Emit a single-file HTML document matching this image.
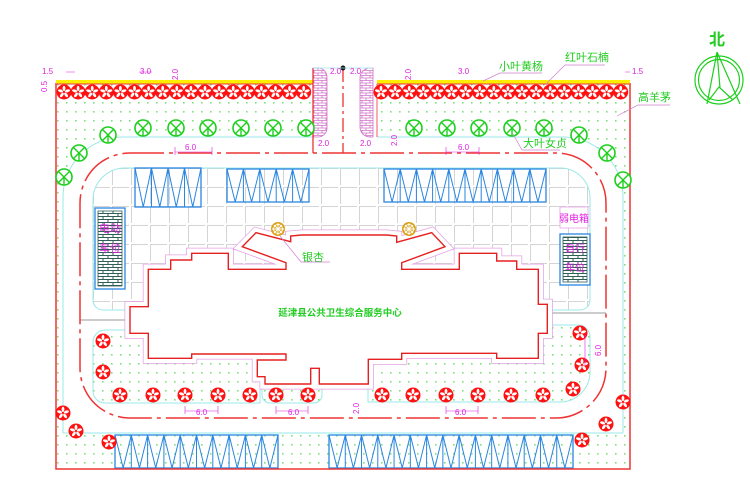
<!DOCTYPE html>
<html><head><meta charset="utf-8"><style>
html,body{margin:0;padding:0;background:#fff;}
svg{display:block;}
text{font-family:"Liberation Sans","Noto Sans CJK SC",sans-serif;}
</style></head><body>
<svg id="s" width="750" height="504" viewBox="0 0 750 504" xmlns="http://www.w3.org/2000/svg">
<defs>
<pattern id="dots" width="9" height="9" patternUnits="userSpaceOnUse">
<rect x="3" y="3" width="1.6" height="1.6" fill="#7be27b"/>
</pattern>
<pattern id="grid" x="93" y="168" width="19" height="19" patternUnits="userSpaceOnUse">
<rect width="19" height="19" fill="#fff"/>
<path d="M0 0.5H17 M0.5 0V17" stroke="#d4d4d4" stroke-width="1" fill="none"/>
</pattern>
<pattern id="brick" width="10" height="6" patternUnits="userSpaceOnUse">
<rect width="10" height="6" fill="#fff"/>
<path d="M0 0.5H10 M0 3.5H10 M3 0.5V3.5 M8 3.5V6" stroke="#2f5f55" stroke-width="1" fill="none"/>
</pattern>
<pattern id="pbrick" width="8" height="5" patternUnits="userSpaceOnUse">
<rect width="8" height="5" fill="#fff"/>
<path d="M0 0.5H8 M0 3H8 M2 0.5V3 M6 3V5" stroke="#d070c8" stroke-width="0.8" fill="none"/>
</pattern>
<symbol id="gt" viewBox="-9 -9 18 18" overflow="visible">
<circle r="8" fill="#fff" stroke="#1ccf1c" stroke-width="1.6"/>
<path d="M-5.6 -5.6L5.6 5.6M5.6 -5.6L-5.6 5.6M0 0V8" stroke="#1ccf1c" stroke-width="1.4"/>
</symbol>
<symbol id="rf" viewBox="-8 -8 16 16" overflow="visible">
<circle r="7.5" fill="#f11"/>
<g fill="#fff">
<ellipse cx="0" cy="-3.6" rx="1.4" ry="2.6"/>
<ellipse cx="0" cy="-3.6" rx="1.4" ry="2.6" transform="rotate(72)"/>
<ellipse cx="0" cy="-3.6" rx="1.4" ry="2.6" transform="rotate(144)"/>
<ellipse cx="0" cy="-3.6" rx="1.4" ry="2.6" transform="rotate(216)"/>
<ellipse cx="0" cy="-3.6" rx="1.4" ry="2.6" transform="rotate(288)"/>
</g>
</symbol>
<symbol id="gk" viewBox="-8 -8 16 16" overflow="visible">
<circle r="7" fill="#d9a21a"/>
<circle r="4.5" fill="none" stroke="#fff" stroke-width="1"/>
<path d="M-6 0H6M0 -6V6M-4 -4L4 4M4 -4L-4 4" stroke="#fff" stroke-width="0.9"/>
</symbol>
</defs>

<!-- green outer area -->
<path fill-rule="evenodd" fill="url(#dots)" d="M56 83H630V469H56Z M123 137H563A60 60 0 0 1 623 197V433H63V197A60 60 0 0 1 123 137Z"/>
<!-- entrance gap -->
<rect x="313" y="83" width="64" height="70" fill="#fff"/>
<!-- road outer cyan -->
<path d="M63 433V197A60 60 0 0 1 123 137H313 M377 137H563A60 60 0 0 1 623 197V433" fill="none" stroke="#9be8e8" stroke-width="1"/>
<line x1="63" y1="433" x2="623" y2="433" stroke="#9be8e8" stroke-width="1"/>

<!-- plaza -->
<path d="M125 168H560A30 30 0 0 1 590 198V300A10 10 0 0 1 580 310H103A10 10 0 0 1 93 300V200A32 32 0 0 1 125 168Z" fill="url(#grid)" stroke="#9be8e8" stroke-width="1"/>
<!-- lower gardens -->
<path d="M105 330H260V403H105A12 12 0 0 1 93 391V342A12 12 0 0 1 105 330Z" fill="url(#dots)" stroke="#9be8e8"/>
<rect x="262" y="370" width="60" height="33" rx="8" fill="url(#dots)" stroke="#9be8e8"/>
<path d="M368 325H578A12 12 0 0 1 590 337V372A30 30 0 0 1 560 402H368Z" fill="url(#dots)" stroke="#9be8e8"/>

<!-- gray lines -->
<line x1="80" y1="320" x2="131" y2="320" stroke="#999" stroke-width="1"/>
<line x1="547" y1="313" x2="606" y2="313" stroke="#999" stroke-width="1"/>

<!-- red dash-dot road line -->
<rect x="80" y="153" width="526" height="265" rx="50" fill="none" stroke="#e33" stroke-width="1.5" stroke-dasharray="34 5 4 5"/>

<!-- parking -->
<g id="park" fill="none" stroke="#2a86e0" stroke-width="1.3"></g>

<!-- building -->
<g id="bld"></g>

<!-- boundary -->
<path d="M56 83V469H630V83" fill="none" stroke="#e33" stroke-width="1.5"/>
<rect x="56" y="80" width="257" height="4" fill="#ffee00"/>
<rect x="377" y="80" width="253" height="4" fill="#ffee00"/>
<line x1="56" y1="84" x2="313" y2="84" stroke="#e33" stroke-width="1"/>
<line x1="377" y1="84" x2="630" y2="84" stroke="#e33" stroke-width="1"/>

<!-- entrance bricks -->
<path d="M313 68H318A9 9 0 0 1 327 77V128A9 9 0 0 1 318 137H313Z" fill="url(#pbrick)" stroke="#d070c8" stroke-width="0.8"/>
<path d="M373 68H370A10 10 0 0 0 360 78V127A10 10 0 0 0 370 137H373Z" fill="url(#pbrick)" stroke="#d070c8" stroke-width="0.8"/>
<line x1="313" y1="68" x2="313" y2="153" stroke="#e33" stroke-width="1.3"/>
<line x1="377" y1="84" x2="377" y2="137" stroke="#e33" stroke-width="0.8"/>
<line x1="343" y1="68" x2="343" y2="153" stroke="#e33" stroke-width="1.3" stroke-dasharray="14 4 3 4"/>
<circle cx="343" cy="68" r="2.5" fill="#111"/>
<line x1="313" y1="68" x2="373" y2="68" stroke="#9be8e8" stroke-width="0.8"/>

<g id="trees"></g>

<!-- boxes -->
<rect x="95" y="208" width="30" height="81" fill="#fff" stroke="#2a86e0" stroke-width="1.3"/>
<rect x="98" y="211" width="24" height="75" fill="url(#brick)" stroke="#2f5f55" stroke-width="0.8"/>
<text x="110" y="232" font-size="11" fill="#e020e0" text-anchor="middle">电动</text>
<text x="110" y="252" font-size="11" fill="#e020e0" text-anchor="middle">车位</text>
<rect x="560" y="234" width="30" height="51" fill="#fff" stroke="#2a86e0" stroke-width="1.3"/>
<rect x="563" y="237" width="24" height="45" fill="url(#brick)" stroke="#2f5f55" stroke-width="0.8"/>
<text x="575" y="252" font-size="10" fill="#e020e0" text-anchor="middle">自行</text>
<text x="575" y="271" font-size="10" fill="#e020e0" text-anchor="middle">车位</text>
<rect x="560" y="207" width="28" height="21" fill="#fff" stroke="#e8a0e8" stroke-width="0.8"/>
<text x="574" y="222" font-size="10" fill="#e020e0" text-anchor="middle">弱电箱</text>

<!-- labels -->
<text x="340" y="316" font-size="9.5" font-weight="bold" fill="#22cc22" text-anchor="middle">延津县公共卫生综合服务中心</text>
<text x="302" y="261" font-size="11" fill="#22cc22">银杏</text>
<polyline points="280,236 301,262 330,262" fill="none" stroke="#d080d0" stroke-width="0.7"/>
<text x="499" y="70" font-size="11" fill="#22cc22">小叶黄杨</text>
<polyline points="483,81 500,73 542,73" fill="none" stroke="#d080d0" stroke-width="0.7"/>
<text x="565" y="61" font-size="11" fill="#22cc22">红叶石楠</text>
<polyline points="546,84 565,65 605,65" fill="none" stroke="#d080d0" stroke-width="0.7"/>
<text x="638" y="101" font-size="11" fill="#22cc22">高羊茅</text>
<polyline points="617,116 638,105 670,105" fill="none" stroke="#d080d0" stroke-width="0.7"/>
<text x="523" y="147" font-size="11" fill="#22cc22">大叶女贞</text>
<polyline points="513,134 522,150 560,150" fill="none" stroke="#d080d0" stroke-width="0.7"/>

<!-- dimensions -->
<g fill="#e020e0" font-size="8" id="dims">
<text x="42" y="74">1.5</text>
<text x="140" y="74">3.0</text>
<text x="458" y="74">3.0</text>
<text x="632" y="74">1.5</text>
<text x="330" y="74">2.0</text>
<text x="350" y="74">2.0</text>
<text x="318" y="146">2.0</text>
<text x="360" y="146">2.0</text>
<text x="458" y="150">6.0</text>
<text x="185" y="150">6.0</text>
<text x="196" y="415">6.0</text>
<text x="288" y="415">6.0</text>
<text x="455" y="415">6.0</text>
<text transform="translate(47,92) rotate(-90)">0.5</text>
<text transform="translate(178,80) rotate(-90)">2.0</text>
<text transform="translate(411,80) rotate(-90)">2.0</text>
<text transform="translate(397,146) rotate(-90)">2.0</text>
<text transform="translate(359,414) rotate(-90)">2.0</text>
<text transform="translate(601,356) rotate(-90)">6.0</text>
</g>
<g stroke="#e020e0" stroke-width="0.6" fill="none">
<path d="M175 152H212M175 147V155M212 147V155"/>
<path d="M446 152H479M446 147V155M479 147V155"/>
<path d="M185 411H218M185 406V414M218 406V414"/>
<path d="M276 411H308M276 406V414M308 406V414"/>
<path d="M446 411H478M446 406V414M478 406V414"/>
<path d="M139 72H152M66 72H75M625 72H630M585 335V365"/>
</g>

<!-- north -->
<text x="717" y="45" font-size="16" font-weight="bold" fill="#22cc22" text-anchor="middle">北</text>
<g fill="none" stroke="#1ccf1c" stroke-width="1.2">
<circle cx="719" cy="80" r="24"/>
<circle cx="719" cy="80" r="20.5"/>
<path d="M717 52L707 104M717 52L740 104M717 52L720 88M709 100L719 87L733 100"/>
</g>
</svg>
<script>
(function(){
var NS="http://www.w3.org/2000/svg";
function el(p,n,a){var e=document.createElementNS(NS,n);for(var k in a)e.setAttribute(k,a[k]);p.appendChild(e);return e;}
var park=document.getElementById('park');
function lot(x1,y1,x2,y2,n){
 el(park,'rect',{x:x1,y:y1,width:x2-x1,height:y2-y1});
 var w=(x2-x1)/n,d='';
 for(var i=0;i<n;i++){var a=x1+i*w;d+='M'+a+' '+y1+'L'+(a+w/2)+' '+y2+'L'+(a+w)+' '+y1+' ';
  if(i>0)d+='M'+a+' '+y1+'V'+y2+' ';}
 el(park,'path',{d:d,'stroke-width':1});
}
lot(135,168,201,207,4);lot(227,169,309,202,5);lot(384,169,546,202,10);
lot(115,435,278,468,10);lot(329,435,573,468,15);
var b=document.getElementById('bld');
var pts="130,306.7 130,333.3 148.3,333.3 148.3,358.3 191.7,358.3 191.7,354 286,354 286,360 257.3,360 257.3,376.7 265,376.7 265,384 310.7,384 310.7,368.3 319.3,368.3 319.3,384 368.3,384 368.3,359.3 401.7,359.3 401.7,353.3 496.7,353.3 496.7,358.3 538.3,358.3 538.3,333.3 547.3,333.3 547.3,304.3 538.3,304.3 538.3,269.3 516.7,269.3 516.7,261 496.7,261 496.7,253.3 459.3,253.3 459.3,269.3 401.7,269.3 401.7,262.7 445,246.7 431.7,232.7 396.7,242.3 396.7,236 386.7,235 301.7,235 290.7,236 290.7,241.7 256,232.7 242.3,246.7 286,262.7 286,269.3 228.3,269.3 228.3,253.3 191.7,253.3 191.7,260 170.7,260 170.7,269.3 148.3,269.3 148.3,306.7";
el(b,'polygon',{points:pts,fill:'none',stroke:'#e4a0e4','stroke-width':11,'stroke-linejoin':'miter'});
el(b,'polygon',{points:pts,fill:'none',stroke:'#fff','stroke-width':9.5,'stroke-linejoin':'miter'});
el(b,'polygon',{points:pts,fill:'#fff',stroke:'#e62020','stroke-width':1.4});
var t=document.getElementById('trees');
function u(id,x,y,s){el(t,'use',{href:'#'+id,x:x-s,y:y-s,width:2*s,height:2*s});}
for(var x=64;x<=306;x+=14.1)u('rf',x,92,8);
for(var x=381;x<=626;x+=14.1)u('rf',x,92,8);
[[108,135],[79,153],[64,177],[143,128],[176,128],[208,128],[241,128],[273,128],[306,128],[414,128],[447,128],[479,128],[512,128],[544,128],[579,135],[607,153],[623,180]].forEach(function(p){u('gt',p[0],p[1],9);});
[[120,395],[153,395],[185,395],[218,395],[250,395],[276,395],[308,395],[382,395],[413,395],[446,395],[478,395],[511,395],[543,395],[103,341],[103,372],[580,333],[582,365],[573,389],[623,402],[606,424],[582,440],[63,413],[76,431],[109,442]].forEach(function(p){u('rf',p[0],p[1],8);});
u('gk',278,229,8);u('gk',409,229,8);
})();
</script>
</body></html>
